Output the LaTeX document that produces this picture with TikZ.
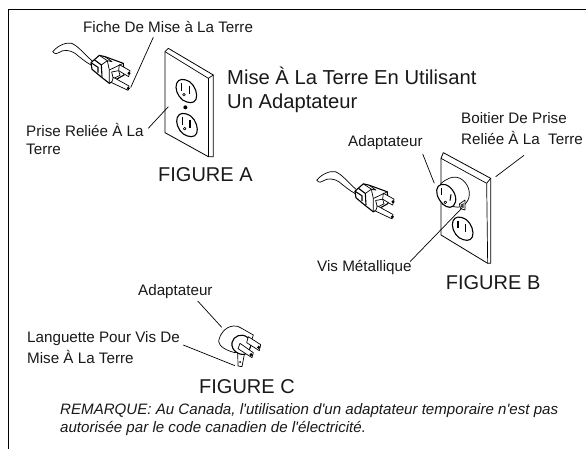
\documentclass[tikz,border=0pt]{standalone}
\usepackage{fontspec}
\setmainfont{Liberation Sans}[Ligatures=TeXOff]
\tikzset{
  lab/.style={inner sep=0pt,anchor=west,font=\fontsize{15.2}{18}\selectfont,text=black!90},
  figlab/.style={inner sep=0pt,anchor=west,font=\fontsize{20}{24}\selectfont,text=black!90},
  lead/.style={line width=0.7pt},
  art/.style={line width=0.7pt,line join=round},
  heavy/.style={line width=1.1pt,line join=round},
  zoomed/.style={scale=1/3},
}
\newcommand{\plugart}{%
  \draw[art] (68,95) .. controls (85,75) and (110,66) .. (125,70) .. controls (145,78) and (165,105) .. (188,124);
  \draw[art] (68,95) .. controls (75,103) and (82,103) .. (88,97) .. controls (100,88) and (120,90) .. (135,100) .. controls (150,112) and (165,125) .. (183,135);
  \draw[heavy,fill=white] (183,128) -- (208,106) -- (225,110) -- (280,130) -- (282,165) -- (238,190) -- (215,172) -- (186,148) -- cycle;
  \draw[heavy] (183,128) -- (204,142) -- (204,158);
  \draw[heavy] (194,120) -- (214,135) -- (216,170);
  \draw[art] (208,106) -- (232,122) -- (214,135);
  \draw[art] (225,110) -- (246,125) -- (232,122);
  \draw[art] (232,122) -- (238,150) -- (238,190);
  \draw[art] (238,150) -- (280,130);
  \draw[art,fill=white] (268,134) -- (300,152) -- (296,170) -- (266,152) -- cycle;
  \fill (297,160) circle (5);
  \draw[art,fill=white] (245,156) -- (266,152) -- (270,166) -- (250,176) -- cycle;
  \draw[art,fill=white] (250,172) -- (297,198) -- (294,211) -- (245,188) -- cycle;
  \fill (295,205) circle (5);
}
\newcommand{\outletart}{%
  \draw[heavy,fill=white] (-28,-22) .. controls (-22,-36) and (-8,-38) .. (12,-26) .. controls (28,-14) and (36,12) .. (30,26) .. controls (24,40) and (6,38) .. (-10,28) .. controls (-26,16) and (-34,-8) .. (-28,-22) -- cycle;
  \draw[line width=1.1pt] (-13,-22) -- (-13,0);
  \draw[line width=1.1pt] (10,-14) -- (10,10);
}
\begin{document}
\begin{tikzpicture}[x=1pt,y=-1pt]
\useasboundingbox (0,0) rectangle (586,449);
\fill[white] (0,0) rectangle (586,449);
% frame
\coordinate (fa) at (8.5,449); \coordinate (fb) at (8.5,9.5); \coordinate (fc) at (586,9.5);
\draw[line width=0.9pt] (fa) -- (fb) -- (fc);
% title
\node[inner sep=0pt,anchor=north west,align=left,text=black!90,font=\fontsize{20.2}{23.5}\selectfont] (title) at (227,67) {Mise À La Terre En Utilisant\\Un Adaptateur};
% Figure A
\begin{scope}[shift={(30,20)},zoomed]\plugart\end{scope}
\begin{scope}[zoomed]
  \draw[art,line width=.8pt,fill=white] (495,155) -- (505,145) -- (640,225) -- (640,470) -- (625,470) -- (495,398) -- cycle;
  \draw[art] (495,155) -- (625,235) -- (640,225);
  \draw[art] (625,235) -- (625,470);
  \begin{scope}[shift={(558,272)}]\outletart\draw[art] (-6,12) circle (4);\end{scope}
  \begin{scope}[shift={(560,374)}]\outletart\draw[art] (-6,12) circle (4);\end{scope}
  \fill (556,322) circle (6);
\end{scope}
\coordinate (plugtip) at (130.7,87.5);
\node[lab] (fiche) at (83,27) {Fiche De Mise à La Terre};
\draw[lead] (153.3,37.3) -- (plugtip);
\node[lab,align=left,anchor=north west,font=\fontsize{15.2}{18}\selectfont] (prise) at (26,123) {Prise Reliée À La\\Terre};
\coordinate (platea) at (168.3,106.7);
\draw[lead] (148.3,128.3) -- (platea);
\node[figlab] (figa) at (158,175) {FIGURE A};
% Figure B
\begin{scope}[shift={(294,148.5)},zoomed]\plugart\end{scope}
\begin{scope}[shift={(420,140)},zoomed]
  \draw[art,line width=.8pt,fill=white] (63,55) -- (70,38) -- (212,115) -- (212,370) -- (203,370) -- (63,285) -- cycle;
  \draw[art] (63,55) -- (200,130) -- (212,115);
  \draw[art] (200,130) -- (203,370);
  \begin{scope}[shift={(127,265)}]\outletart\end{scope}
  % adapter body
  \draw[art,fill=white] (62,132) .. controls (75,118) and (100,105) .. (120,115) .. controls (145,128) and (155,160) .. (143,182) .. controls (135,198) and (120,205) .. (100,200) -- (75,190) -- cycle;
  \draw[heavy,fill=white] (50,150) .. controls (52,132) and (72,126) .. (90,142) .. controls (108,158) and (113,185) .. (100,198) .. controls (88,208) and (70,198) .. (60,182) .. controls (52,170) and (49,160) .. (50,150) -- cycle;
  \draw[line width=1.1pt] (65,145) -- (65,165);
  \draw[line width=1.1pt] (93,163) -- (90,182);
  \draw[art] (76,187) circle (4);
  \draw[art,fill=white] (118,192) -- (135,180) -- (135,210) -- (122,206) -- cycle;
  \fill[black!75] (122,194) -- (131,189) -- (131,204) -- (123,202) -- cycle;
\end{scope}
\node[lab] (adb) at (348,143) {Adaptateur};
\coordinate (adbp) at (434.3,183.3);
\draw[lead] (422.7,154) -- (adbp);
\node[lab,align=left,anchor=north west,font=\fontsize{15.2}{21}\selectfont] (boit) at (461,112) {Boitier De Prise\\Reliée À La\ \ Terre};
\coordinate (boitp) at (495.7,176.7);
\draw[lead] (524,155.3) -- (boitp);
\node[lab] (vis) at (317,267) {Vis Métallique};
\coordinate (visp) at (461.7,208.3);
\draw[lead] (410,261.7) -- (visp);
\node[figlab] (figb) at (445.7,283) {FIGURE B};
% Figure C
\begin{scope}[shift={(170,310)},zoomed]
  \draw[art,fill=white] (190,48) .. controls (165,50) and (148,75) .. (146,95) .. controls (148,110) and (170,122) .. (195,128) -- (240,105) -- (250,75) -- (215,55) .. controls (208,50) and (198,46) .. (190,48) -- cycle;
  \draw[art,fill=white] (203,122) -- (224,128) -- (216,170) -- (204,168) -- cycle;
  \fill (210,156) circle (3);
  \draw[heavy,fill=white] (186,98) .. controls (190,78) and (215,68) .. (232,82) .. controls (248,97) and (245,120) .. (226,132) .. controls (210,138) and (182,122) .. (186,98) -- cycle;
  \draw[art,fill=white] (235,80) -- (272,104) -- (268,122) -- (230,98) -- cycle;
  \fill (266,112) circle (5);
  \draw[art,fill=white] (210,100) -- (250,128) -- (246,143) -- (204,116) -- cycle;
  \fill (243,134) circle (5);
\end{scope}
\node[lab] (adc) at (138,292) {Adaptateur};
\coordinate (adcp) at (221.7,327.3);
\draw[lead] (197.7,301) -- (adcp);
\node[lab,align=left,anchor=north west,font=\fontsize{15.2}{21}\selectfont] (lang) at (27,331) {Languette Pour Vis De\\Mise À La Terre};
\coordinate (langp) at (235,365.7);
\draw[lead] (183.3,345) -- (langp);
\node[figlab] (figc) at (199,387) {FIGURE C};
% Remark
\node[inner sep=0pt,anchor=north west,align=left,text=black!90,font=\itshape\fontsize{15.1}{18}\selectfont] (rem) at (60,403.5) {REMARQUE: Au Canada, l'utilisation d'un adaptateur temporaire n'est pas\\autorisée par le code canadien de l'électricité.};
\end{tikzpicture}
\end{document}
